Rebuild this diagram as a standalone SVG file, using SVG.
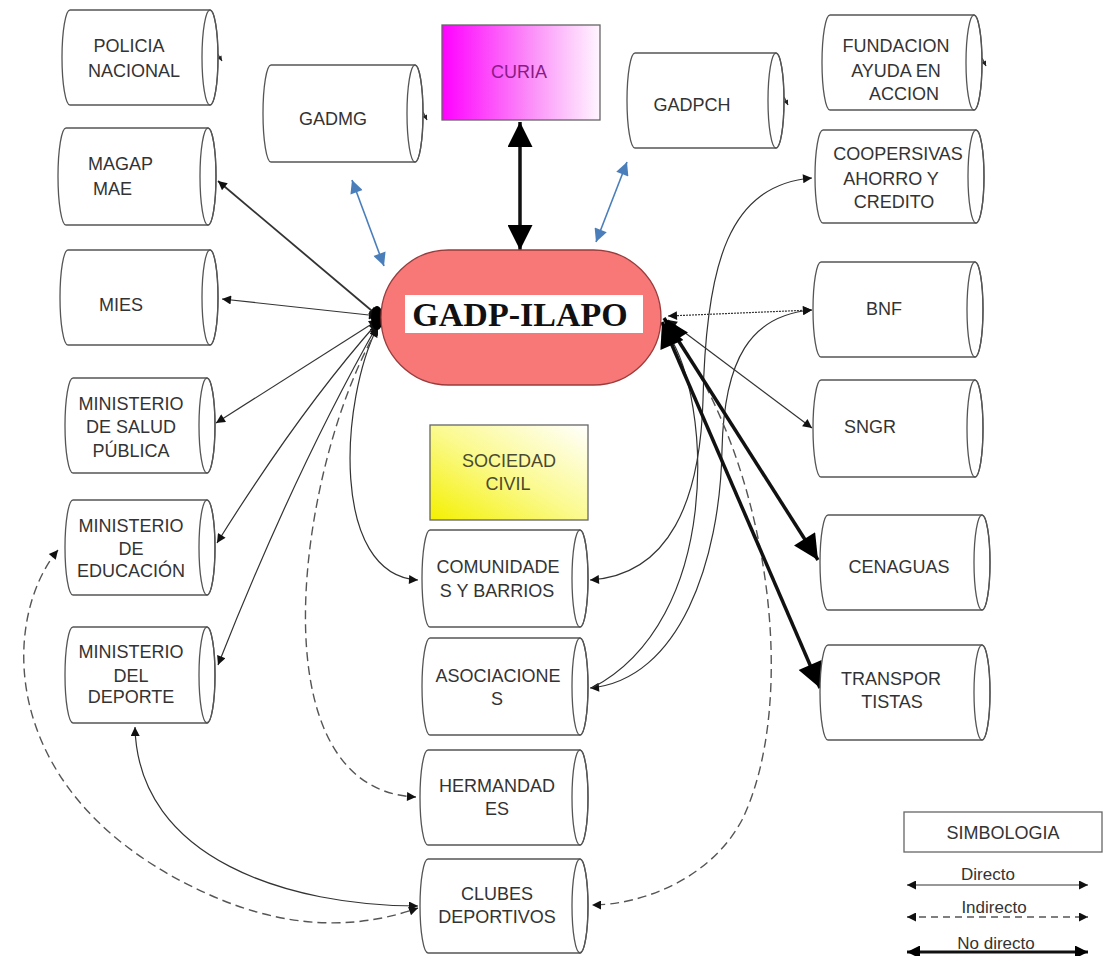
<svg xmlns="http://www.w3.org/2000/svg" width="1104" height="956" viewBox="0 0 1104 956">
<style>
.cyl{fill:#fff;stroke:#555;stroke-width:1.3}
.cap{fill:none;stroke:#555;stroke-width:1.3}
.t{font-family:"Liberation Sans",Arial,sans-serif;font-size:18px;fill:#333;text-anchor:middle}
.ts{text-anchor:start}
.thin{fill:none;stroke:#333;stroke-width:1.2}
.dash{fill:none;stroke:#555;stroke-width:1.4;stroke-dasharray:9 5}
.thick{fill:none;stroke:#111;stroke-width:3.5}
.blue{fill:none;stroke:#4a7ebb;stroke-width:1.6}
</style>
<defs>
<marker id="a" viewBox="0 0 10 10" refX="10" refY="5" markerWidth="12" markerHeight="9" markerUnits="userSpaceOnUse" orient="auto-start-reverse"><path d="M0,0 L10,5 L0,10 Z" fill="#111"/></marker>
<marker id="ab" viewBox="0 0 10 10" refX="10" refY="5" markerWidth="30" markerHeight="25" markerUnits="userSpaceOnUse" orient="auto-start-reverse"><path d="M0,0 L10,5 L0,10 Z" fill="#000"/></marker>
<marker id="am" viewBox="0 0 10 10" refX="10" refY="5" markerWidth="17" markerHeight="13" markerUnits="userSpaceOnUse" orient="auto-start-reverse"><path d="M0,0 L10,5 L0,10 Z" fill="#000"/></marker>
<marker id="abl" viewBox="0 0 10 10" refX="10" refY="5" markerWidth="17" markerHeight="13" markerUnits="userSpaceOnUse" orient="auto-start-reverse"><path d="M0,0 L10,5 L0,10 Z" fill="#4a7ebb"/></marker>
<marker id="tk" viewBox="0 0 10 10" refX="10" refY="5" markerWidth="6" markerHeight="5" markerUnits="userSpaceOnUse" orient="auto"><path d="M0,0 L10,5 L0,10 Z" fill="#222"/></marker>
<linearGradient id="gCuria" x1="0" y1="0" x2="1" y2="0"><stop offset="0" stop-color="#ff00ff"/><stop offset="0.55" stop-color="#fb8cf8"/><stop offset="1" stop-color="#fff6ff"/></linearGradient>
<linearGradient id="gSoc" x1="0" y1="1" x2="1" y2="0"><stop offset="0" stop-color="#f4f000"/><stop offset="0.5" stop-color="#fbfa90"/><stop offset="1" stop-color="#ffffff"/></linearGradient>
</defs>

<g id="connectors">
<path class="thin" style="stroke-width:1.8" d="M378 316 L218 181" marker-start="url(#a)" marker-end="url(#a)"/>
<path class="thin" d="M378 316 L222 299" marker-start="url(#a)" marker-end="url(#a)"/>
<path class="thin" d="M378 320 L216 423" marker-start="url(#a)" marker-end="url(#a)"/>
<path class="thin" d="M378 322 Q300 410 217 543" marker-start="url(#a)" marker-end="url(#a)"/>
<path class="thin" d="M378 324 Q295 470 218 665" marker-start="url(#a)" marker-end="url(#a)"/>
<path class="thin" d="M378 326 C340 400 330 575 418 580" marker-start="url(#a)" marker-end="url(#a)"/>
<path class="dash" d="M378 328 C300 460 250 790 416 797" marker-start="url(#a)" marker-end="url(#a)"/>
<ellipse cx="377" cy="318" rx="6" ry="12" fill="#000"/>
<path class="thin" d="M135 727 C138 860 290 906 418 906" marker-start="url(#a)" marker-end="url(#a)"/>
<path class="dash" d="M58 550 C0 620 -5 800 210 895 C300 935 370 925 418 908" marker-start="url(#a)" marker-end="url(#a)"/>
<path class="blue" d="M352 180 L384 266" marker-start="url(#abl)" marker-end="url(#abl)"/>
<path class="blue" d="M627 162 L596 242" marker-start="url(#abl)" marker-end="url(#abl)"/>
<path class="thick" d="M520 122 L520 250" marker-start="url(#ab)" marker-end="url(#ab)"/>
<path class="thin" d="M590 580 C670 575 700 500 703 400 C706 260 730 185 812 178" marker-start="url(#a)" marker-end="url(#a)"/>
<path class="thin" d="M590 688 C680 680 720 560 722 450 C724 360 750 315 812 310" marker-start="url(#a)" marker-end="url(#a)"/>
<path class="thin" d="M668 334 C712 400 722 620 592 688"/>
<path class="thin" style="stroke-dasharray:2 1" d="M668 316 L812 310" marker-start="url(#a)" marker-end="url(#a)"/>
<path class="thin" d="M668 320 L812 428" marker-start="url(#a)" marker-end="url(#a)"/>
<path class="dash" d="M668 326 C770 460 800 700 742 820 C710 880 640 905 592 905" marker-start="url(#a)" marker-end="url(#a)"/>
<path class="thick" d="M664 318 L818 560" marker-start="url(#ab)" marker-end="url(#ab)"/>
<path class="thick" d="M662 322 L820 688" marker-start="url(#ab)" marker-end="url(#ab)"/>
<path class="thin" d="M217 53 L222 61" marker-end="url(#tk)"/>
<path class="thin" d="M423 112 L427 120" marker-end="url(#tk)"/>
<path class="thin" d="M784 97 L788 105" marker-end="url(#tk)"/>
<path class="thin" d="M982 58 L986 66" marker-end="url(#tk)"/>
</g>

<g id="gadp-ilapo">
<rect x="381" y="250" width="280" height="135" rx="67.5" fill="#f87878" stroke="#9a3b3b" stroke-width="1.3"/>
<rect x="405" y="295" width="238" height="38" fill="#fff"/>
<text x="520" y="326" style="font-family:'Liberation Serif','Times New Roman',serif;font-weight:bold;font-size:34px;fill:#111;text-anchor:middle">GADP-ILAPO</text>
</g>

<g id="curia">
<rect x="442" y="25" width="158" height="95" fill="url(#gCuria)" stroke="#666" stroke-width="1.3"/>
<text class="t" x="519" y="78" style="fill:#8a1a85">CURIA</text>
</g>

<g id="sociedad-civil">
<rect x="430" y="425" width="158" height="95" fill="url(#gSoc)" stroke="#666" stroke-width="1.3"/>
<text class="t" x="509" y="467" style="fill:#4a4a30">SOCIEDAD</text>
<text class="t" x="508" y="490" style="fill:#4a4a30">CIVIL</text>
</g>

<g id="policia">
<path class="cyl" d="M70 10 H210 A8 47.5 0 0 1 210 105 H70 A8 47.5 0 0 1 70 10 Z"/>
<ellipse class="cap" cx="210" cy="57.5" rx="8" ry="47.5"/>
<text class="t" x="129" y="52">POLICIA</text>
<text class="t" x="134" y="77">NACIONAL</text>
</g>

<g id="magap">
<path class="cyl" d="M66 128 H208 A8 48.5 0 0 1 208 225 H66 A8 48.5 0 0 1 66 128 Z"/>
<ellipse class="cap" cx="208" cy="176.5" rx="8" ry="48.5"/>
<text class="t ts" x="88" y="170">MAGAP</text>
<text class="t ts" x="93" y="195">MAE</text>
</g>

<g id="mies">
<path class="cyl" d="M68 250 H210 A8 47.5 0 0 1 210 345 H68 A8 47.5 0 0 1 68 250 Z"/>
<ellipse class="cap" cx="210" cy="297.5" rx="8" ry="47.5"/>
<text class="t" x="121" y="311">MIES</text>
</g>

<g id="salud">
<path class="cyl" d="M73 378 H207 A8 47.5 0 0 1 207 473 H73 A8 47.5 0 0 1 73 378 Z"/>
<ellipse class="cap" cx="207" cy="425.5" rx="8" ry="47.5"/>
<text class="t" x="131" y="410">MINISTERIO</text>
<text class="t" x="131" y="433">DE SALUD</text>
<text class="t" x="131" y="457">PÚBLICA</text>
</g>

<g id="educacion">
<path class="cyl" d="M73 500 H207 A8 47.5 0 0 1 207 595 H73 A8 47.5 0 0 1 73 500 Z"/>
<ellipse class="cap" cx="207" cy="547.5" rx="8" ry="47.5"/>
<text class="t" x="131" y="532">MINISTERIO</text>
<text class="t" x="131" y="555">DE</text>
<text class="t" x="131" y="577">EDUCACIÓN</text>
</g>

<g id="deporte">
<path class="cyl" d="M73 627 H207 A8 48 0 0 1 207 723 H73 A8 48 0 0 1 73 627 Z"/>
<ellipse class="cap" cx="207" cy="675" rx="8" ry="48"/>
<text class="t" x="131" y="658">MINISTERIO</text>
<text class="t" x="131" y="682">DEL</text>
<text class="t" x="131" y="703">DEPORTE</text>
</g>

<g id="gadmg">
<path class="cyl" d="M271 65 H415 A8 48.5 0 0 1 415 162 H271 A8 48.5 0 0 1 271 65 Z"/>
<ellipse class="cap" cx="415" cy="113.5" rx="8" ry="48.5"/>
<text class="t" x="333" y="125">GADMG</text>
</g>

<g id="gadpch">
<path class="cyl" d="M635 53 H776 A8 47.5 0 0 1 776 148 H635 A8 47.5 0 0 1 635 53 Z"/>
<ellipse class="cap" cx="776" cy="100.5" rx="8" ry="47.5"/>
<text class="t" x="692" y="111">GADPCH</text>
</g>

<g id="fundacion">
<path class="cyl" d="M830 15 H974 A8 47.5 0 0 1 974 110 H830 A8 47.5 0 0 1 830 15 Z"/>
<ellipse class="cap" cx="974" cy="62.5" rx="8" ry="47.5"/>
<text class="t" x="896" y="52">FUNDACION</text>
<text class="t" x="896" y="77">AYUDA EN</text>
<text class="t" x="904" y="100">ACCION</text>
</g>

<g id="cooperativas">
<path class="cyl" d="M823 130 H976 A8 46.5 0 0 1 976 223 H823 A8 46.5 0 0 1 823 130 Z"/>
<ellipse class="cap" cx="976" cy="176.5" rx="8" ry="46.5"/>
<text class="t" x="898" y="160">COOPERSIVAS</text>
<text class="t" x="891" y="185">AHORRO Y</text>
<text class="t" x="894" y="208">CREDITO</text>
</g>

<g id="bnf">
<path class="cyl" d="M821 262 H975 A8 47.5 0 0 1 975 357 H821 A8 47.5 0 0 1 821 262 Z"/>
<ellipse class="cap" cx="975" cy="309.5" rx="8" ry="47.5"/>
<text class="t" x="884" y="315">BNF</text>
</g>

<g id="sngr">
<path class="cyl" d="M821 380 H975 A8 48.5 0 0 1 975 477 H821 A8 48.5 0 0 1 821 380 Z"/>
<ellipse class="cap" cx="975" cy="428.5" rx="8" ry="48.5"/>
<text class="t" x="870" y="433">SNGR</text>
</g>

<g id="cenaguas">
<path class="cyl" d="M828 515 H982 A8 47.5 0 0 1 982 610 H828 A8 47.5 0 0 1 828 515 Z"/>
<ellipse class="cap" cx="982" cy="562.5" rx="8" ry="47.5"/>
<text class="t" x="899" y="573">CENAGUAS</text>
</g>

<g id="transportistas">
<path class="cyl" d="M828 645 H982 A8 47.5 0 0 1 982 740 H828 A8 47.5 0 0 1 828 645 Z"/>
<ellipse class="cap" cx="982" cy="692.5" rx="8" ry="47.5"/>
<text class="t" x="891" y="685">TRANSPOR</text>
<text class="t" x="892" y="708">TISTAS</text>
</g>

<g id="comunidades">
<path class="cyl" d="M430 530 H580 A8 48.5 0 0 1 580 627 H430 A8 48.5 0 0 1 430 530 Z"/>
<ellipse class="cap" cx="580" cy="578.5" rx="8" ry="48.5"/>
<text class="t" x="498" y="573">COMUNIDADE</text>
<text class="t" x="497" y="597">S Y BARRIOS</text>
</g>

<g id="asociaciones">
<path class="cyl" d="M430 638 H580 A8 48.5 0 0 1 580 735 H430 A8 48.5 0 0 1 430 638 Z"/>
<ellipse class="cap" cx="580" cy="686.5" rx="8" ry="48.5"/>
<text class="t" x="498" y="682">ASOCIACIONE</text>
<text class="t" x="497" y="705">S</text>
</g>

<g id="hermandades">
<path class="cyl" d="M428 750 H580 A8 47.5 0 0 1 580 845 H428 A8 47.5 0 0 1 428 750 Z"/>
<ellipse class="cap" cx="580" cy="797.5" rx="8" ry="47.5"/>
<text class="t" x="497" y="792">HERMANDAD</text>
<text class="t" x="497" y="815">ES</text>
</g>

<g id="clubes">
<path class="cyl" d="M428 859 H580 A8 47 0 0 1 580 953 H428 A8 47 0 0 1 428 859 Z"/>
<ellipse class="cap" cx="580" cy="906" rx="8" ry="47"/>
<text class="t" x="497" y="900">CLUBES</text>
<text class="t" x="497" y="923">DEPORTIVOS</text>
</g>

<g id="simbologia">
<rect x="904" y="812" width="198" height="40" fill="#fff" stroke="#666" stroke-width="1.3"/>
<text class="t" x="1003" y="839">SIMBOLOGIA</text>
<text class="t" x="988" y="880" style="font-size:17px">Directo</text>
<path class="thin" d="M907 885 L1088 885" marker-start="url(#a)" marker-end="url(#a)"/>
<text class="t" x="994" y="913" style="font-size:17px">Indirecto</text>
<path class="dash" style="stroke-dasharray:7 5" d="M907 917 L1088 917" marker-start="url(#a)" marker-end="url(#a)"/>
<text class="t" x="996" y="949" style="font-size:17px">No directo</text>
<path class="thick" style="stroke-width:3" d="M907 952 L1088 952" marker-start="url(#am)" marker-end="url(#am)"/>
</g>
</svg>
